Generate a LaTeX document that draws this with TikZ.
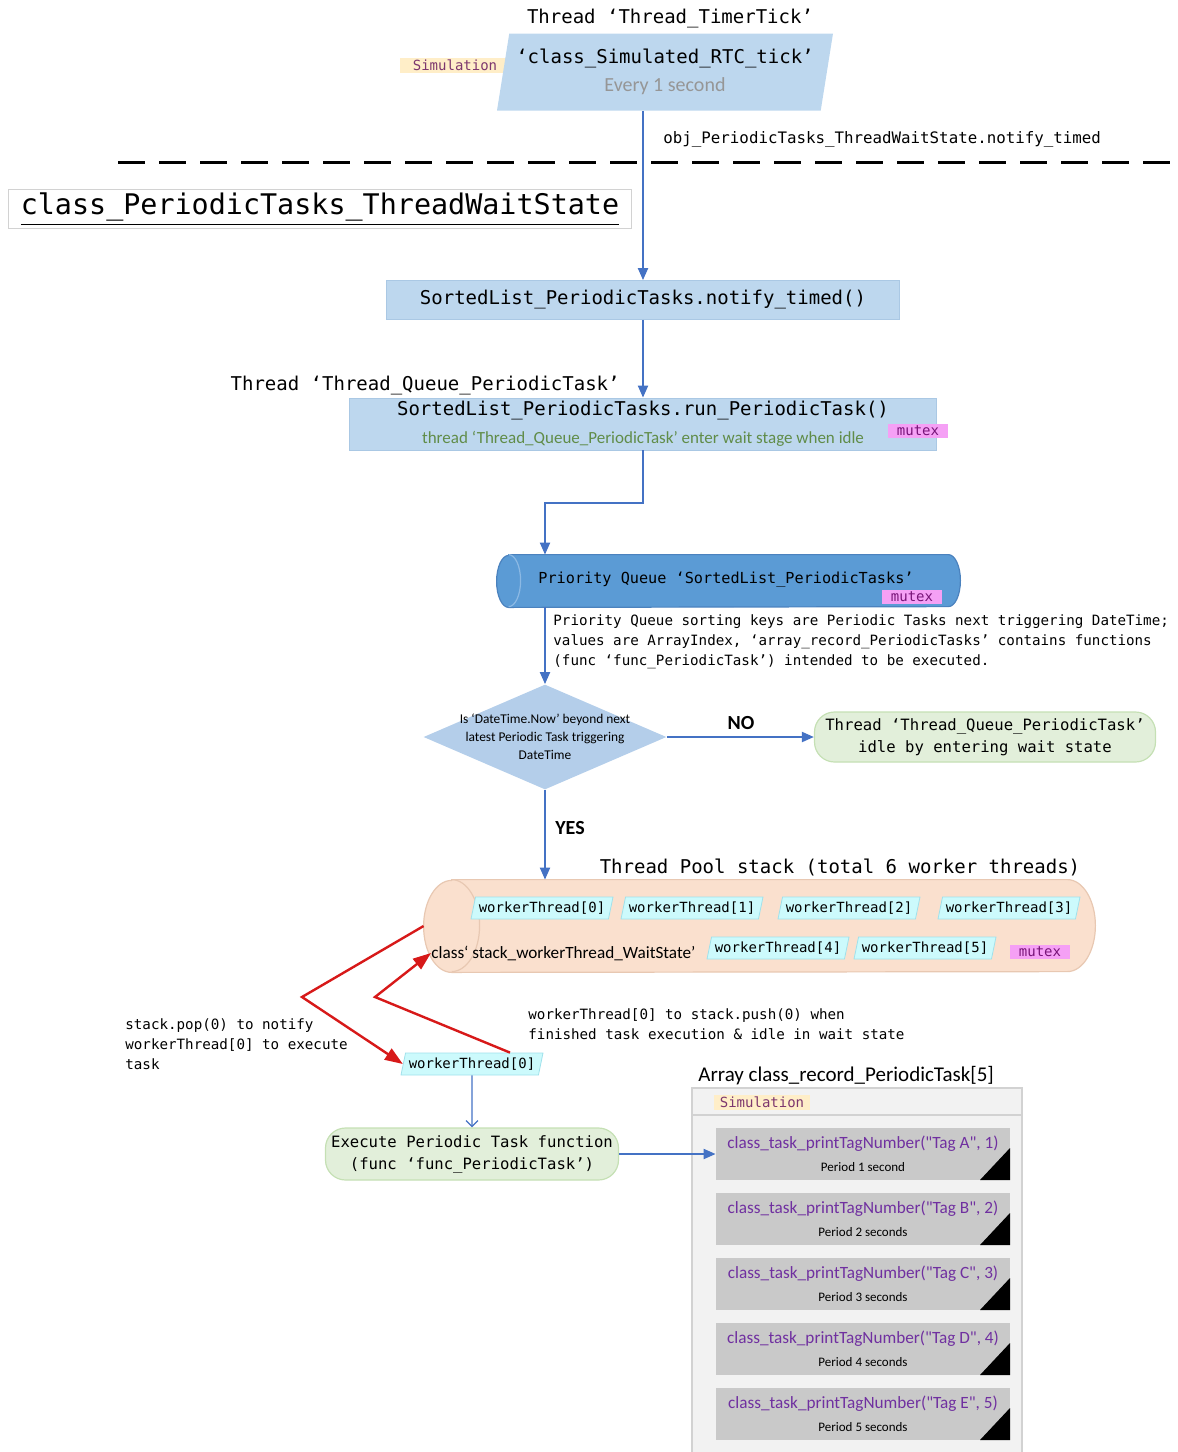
\documentclass[tikz,border=0pt]{standalone}
\usepackage{fontspec}
\setmainfont{Carlito}
\setmonofont{DejaVu Sans Mono}
\usetikzlibrary{shapes.geometric,arrows.meta,calc}

\definecolor{boxblue}{RGB}{189,215,238}
\definecolor{boxedge}{RGB}{170,200,228}
\definecolor{decblue}{RGB}{180,206,234}
\definecolor{qblue}{RGB}{91,155,213}
\definecolor{qedge}{RGB}{75,130,190}
\definecolor{qface}{RGB}{140,185,228}
\definecolor{linkblue}{RGB}{68,114,196}
\definecolor{idlegreen}{RGB}{226,239,218}
\definecolor{idleedge}{RGB}{197,224,180}
\definecolor{poolpeach}{RGB}{250,224,206}
\definecolor{pooledge}{RGB}{232,200,178}
\definecolor{workercyan}{RGB}{204,250,252}
\definecolor{workeredge}{RGB}{160,225,235}
\definecolor{simyellow}{RGB}{255,238,200}
\definecolor{simtext}{RGB}{125,55,110}
\definecolor{mutexpink}{RGB}{245,160,245}
\definecolor{mutextext}{RGB}{120,20,120}
\definecolor{taskpurple}{RGB}{112,48,160}
\definecolor{taskgray}{RGB}{201,201,201}
\definecolor{panelgray}{RGB}{242,242,242}
\definecolor{paneledge}{RGB}{210,210,210}
\definecolor{notegreen}{RGB}{96,140,72}
\definecolor{tickgray}{RGB}{150,150,150}
\definecolor{popred}{RGB}{215,25,25}

\newcommand\codetext{\fontsize{9.5}{14}\selectfont\ttfamily}
\newcommand\codeline{\fontsize{7.8}{11}\selectfont\ttfamily}
\newcommand\codenote{\fontsize{7.9}{10}\selectfont\ttfamily}
\newcommand\codesmall{\fontsize{7.1}{10}\selectfont\ttfamily}
\newcommand\codetag{\fontsize{7}{8}\selectfont\ttfamily}
\newcommand\codetitle{\fontsize{14.2}{17}\selectfont\ttfamily}

\begin{document}
\begin{tikzpicture}[x=0.5pt,y=-0.5pt]
  \tikzstyle{caption}=[inner sep=0pt, font=\codetext]
  \tikzstyle{tickbox}=[trapezium, trapezium left angle=75, trapezium right angle=105,
    trapezium stretches body=true, fill=boxblue, minimum width=168pt, minimum height=38.5pt,
    inner sep=0pt, align=center, font=\codetext]
  \tikzstyle{method}=[rectangle, fill=boxblue, draw=boxedge, line width=0.4pt,
    minimum width=256.5pt, minimum height=19.5pt, inner sep=0pt, align=center, font=\codetext]
  \tikzstyle{simtag}=[fill=simyellow, text=simtext, font=\codetag, minimum width=55pt,
    minimum height=7.5pt, inner sep=0pt]
  \tikzstyle{mutextag}=[fill=mutexpink, text=mutextext, font=\codetag, minimum width=30pt,
    minimum height=7pt, inner sep=0pt]
  \tikzstyle{tube}=[rectangle, inner sep=0pt]
  \tikzstyle{decision}=[diamond, fill=decblue, aspect=2.3, minimum width=121.5pt,
    minimum height=52.5pt, inner sep=0pt]
  \tikzstyle{question}=[inner sep=0pt, align=center, font=\fontsize{6.7}{9}\selectfont]
  \tikzstyle{idle}=[rectangle, rounded corners=10pt, fill=idlegreen, draw=idleedge,
    line width=0.6pt, minimum width=170.5pt, minimum height=25pt, inner sep=0pt,
    align=center, font=\codeline]
  \tikzstyle{answer}=[inner sep=0pt, font=\fontsize{10}{12}\selectfont\bfseries]
  \tikzstyle{worker}=[trapezium, trapezium left angle=70, trapezium right angle=110,
    trapezium stretches body=true, fill=workercyan, draw=workeredge, line width=0.4pt,
    minimum width=71pt, minimum height=11pt, inner xsep=1pt, inner ysep=0pt, font=\codetag]
  \tikzstyle{note}=[inner sep=0pt, align=left, anchor=north west]
  \tikzstyle{taskbox}=[rectangle, fill=taskgray, minimum width=147pt, minimum height=26pt,
    inner sep=0pt, align=center, text=taskpurple, font=\fontsize{8.6}{11.5}\selectfont,
    path picture={\fill[black] (path picture bounding box.south east) -- ++(0,-32)
      -- ++(-30,32) -- cycle;}]
  \tikzstyle{flow}=[draw=linkblue, line width=1pt, -{Triangle[length=6pt,width=5pt]}]
  \tikzstyle{handoff}=[draw=popred, line width=1.2pt, -{Triangle[length=9pt,width=6.5pt]}]

  \useasboundingbox (0,0) rectangle (1178,1452);

  % timer tick
  \node[caption] (tickhead) at (670,19) {Thread ‘Thread\_TimerTick’};
  \node[simtag] (simtop) at (455,65) {Simulation};
  \node[tickbox] (tick) at (665,72)
    {‘class\_Simulated\_RTC\_tick’\\{\rmfamily\fontsize{10}{12}\selectfont\color{tickgray}Every 1 second}};
  \node[caption, font=\codenote, anchor=west] (notifylbl) at (663,139)
    {obj\_PeriodicTasks\_ThreadWaitState.notify\_timed};

  \draw[line width=1.5pt, dash pattern=on 13.5pt off 7pt] (118,162) -- (1178,162);

  \node[draw=paneledge, line width=0.5pt, minimum width=311.5pt, minimum height=19.5pt,
    inner sep=0pt, font=\codetitle] (waitclass) at (320,209)
    {\underline{class\_PeriodicTasks\_ThreadWaitState}};

  % sorted list
  \node[method] (notify) at (643,300) {SortedList\_PeriodicTasks.notify\_timed()};
  \node[caption, anchor=east] (queuehead) at (620,386) {Thread ‘Thread\_Queue\_PeriodicTask’};
  \node[method, minimum width=293.5pt, minimum height=26pt] (run) at (643,424)
    {SortedList\_PeriodicTasks.run\_PeriodicTask()\\
     {\rmfamily\fontsize{8.5}{10}\selectfont\color{notegreen}thread ‘Thread\_Queue\_PeriodicTask’ enter wait stage when idle}};
  \node[mutextag] (mutexrun) at (918,431) {mutex};

  % priority queue
  \node[tube, minimum width=231.5pt, minimum height=26pt] (pq) at (728.5,581) {};
  \filldraw[fill=qblue, draw=qedge, line width=0.6pt] ($(pq.north west)+(12,0)$) -- ($(pq.north east)+(-12,0)$)
    arc[start angle=90, end angle=-90, x radius=6pt, y radius=13pt]
    -- ($(pq.south west)+(12,0)$)
    arc[start angle=270, end angle=90, x radius=6pt, y radius=13pt] -- cycle;
  \draw[qface, line width=0.6pt] ($(pq.north west)+(12,0)$)
    arc[start angle=90, end angle=-90, x radius=6pt, y radius=13pt];
  \node[caption, font=\fontsize{7.6}{9}\selectfont\ttfamily] (pqlbl) at (726,580)
    {Priority Queue ‘SortedList\_PeriodicTasks’};
  \node[mutextag] (mutexpq) at (912,597) {mutex};
  \node[note, font=\codesmall] (pqnote) at (553,614)
    {Priority Queue sorting keys are Periodic Tasks next triggering DateTime;\\
     values are ArrayIndex, ‘array\_record\_PeriodicTasks’ contains functions\\
     (func ‘func\_PeriodicTask’) intended to be executed.};

  % decision
  \node[decision] (dec) at (545,737) {};
  \node[question] (decq) at (545,737)
    {Is ‘DateTime.Now’ beyond next\\latest Periodic Task triggering\\DateTime};
  \node[answer] (nolbl) at (741,723) {NO};
  \node[idle] (idle) at (985,737) {Thread ‘Thread\_Queue\_PeriodicTask’\\idle by entering wait state};
  \node[answer] (yeslbl) at (570,828) {YES};

  % thread pool
  \node[caption] (poolhead) at (840,867) {Thread Pool stack (total 6 worker threads)};
  \node[tube, minimum width=335.5pt, minimum height=46pt] (pool) at (759.5,926) {};
  \filldraw[fill=poolpeach, draw=pooledge, line width=0.6pt] ($(pool.north west)+(28,0)$) -- ($(pool.north east)+(-28,0)$)
    arc[start angle=90, end angle=-90, x radius=14pt, y radius=23pt]
    -- ($(pool.south west)+(28,0)$)
    arc[start angle=270, end angle=90, x radius=14pt, y radius=23pt] -- cycle;
  \draw[pooledge, line width=0.6pt] ($(pool.north west)+(28,0)$)
    arc[start angle=90, end angle=-90, x radius=14pt, y radius=23pt];
  \node[worker] (wp0) at (542,908)  {workerThread[0]};
  \node[worker] (wp1) at (692,908)  {workerThread[1]};
  \node[worker] (wp2) at (849,908)  {workerThread[2]};
  \node[worker] (wp3) at (1009,908) {workerThread[3]};
  \node[worker] (wp4) at (778,948)  {workerThread[4]};
  \node[worker] (wp5) at (925,948)  {workerThread[5]};
  \node[inner sep=0pt, anchor=west, font=\fontsize{8.6}{10}\selectfont] (stacklbl) at (431,953)
    {class‘ stack\_workerThread\_WaitState’};
  \node[mutextag] (mutexpool) at (1040,952) {mutex};

  \node[note, font=\codesmall] (popnote) at (125,1018)
    {stack.pop(0) to notify\\workerThread[0] to execute\\task};
  \node[note, font=\codesmall] (pushnote) at (528,1008)
    {workerThread[0] to stack.push(0) when\\finished task execution \& idle in wait state};
  \node[worker] (popped) at (472,1064) {workerThread[0]};
  \node[idle, minimum width=146.5pt, minimum height=26pt] (exec) at (472,1154)
    {Execute Periodic Task function\\(func ‘func\_PeriodicTask’)};

  % task array
  \node[inner sep=0pt, anchor=west, font=\fontsize{10.5}{12}\selectfont] (arrayhead) at (698,1076)
    {Array class\_record\_PeriodicTask[5]};
  \fill[panelgray] (692,1088) rectangle (1022,1452);
  \draw[paneledge, line width=0.6pt] (692,1452) -- (692,1088) -- (1022,1088) -- (1022,1452);
  \draw[paneledge, line width=0.6pt] (692,1115) -- (1022,1115);
  \node[simtag, minimum width=48pt] (simarray) at (762,1102) {Simulation};

  \node[taskbox] (task1) at (863,1154)
    {class\_task\_printTagNumber(\textquotedbl Tag A\textquotedbl, 1)\\{\color{black}\fontsize{6.5}{11.5}\selectfont Period 1 second}};
  \node[taskbox] (task2) at (863,1219)
    {class\_task\_printTagNumber(\textquotedbl Tag B\textquotedbl, 2)\\{\color{black}\fontsize{6.5}{11.5}\selectfont Period 2 seconds}};
  \node[taskbox] (task3) at (863,1284)
    {class\_task\_printTagNumber(\textquotedbl Tag C\textquotedbl, 3)\\{\color{black}\fontsize{6.5}{11.5}\selectfont Period 3 seconds}};
  \node[taskbox] (task4) at (863,1349)
    {class\_task\_printTagNumber(\textquotedbl Tag D\textquotedbl, 4)\\{\color{black}\fontsize{6.5}{11.5}\selectfont Period 4 seconds}};
  \node[taskbox] (task5) at (863,1414)
    {class\_task\_printTagNumber(\textquotedbl Tag E\textquotedbl, 5)\\{\color{black}\fontsize{6.5}{11.5}\selectfont Period 5 seconds}};

  % connectors
  \draw[flow] (notify.north |- tick.south) -- (notify.north);
  \draw[flow] (notify.south) -- (run.north);
  \draw[flow] (run.south) -- ++(0,53) -| (dec.north |- pq.north);
  \draw[flow] (dec.north |- pq.south) -- (dec.north);
  \draw[flow] (dec.east) -- (idle.west);
  \draw[flow] (dec.south) -- (dec.south |- pool.north);
  \draw[handoff] (pool.west) -- (302,997) -- (popped.west);
  \draw[handoff] ($(popped.north)+(38,0)$) -- (375,997) -- (stacklbl.west);
  \draw[linkblue, line width=0.6pt, -{Straight Barb[length=3pt,width=6pt]}] (popped.south) -- (exec.north);
  \draw[flow] (exec.east) -- (task1.west);
\end{tikzpicture}
\end{document}
